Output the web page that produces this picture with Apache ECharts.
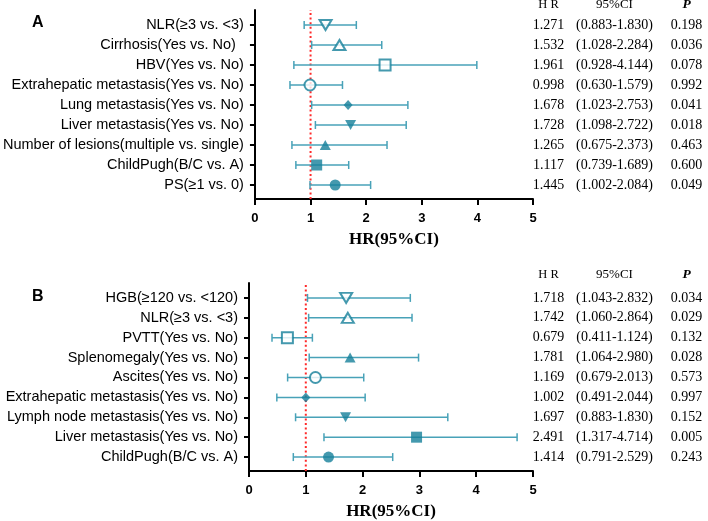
<!DOCTYPE html>
<html>
<head>
<meta charset="utf-8">
<script src="https://cdn.jsdelivr.net/npm/echarts@6/dist/echarts.min.js"></script>
<style>
  html, body { margin: 0; padding: 0; background: #fff; }
  #chart { width: 708px; height: 521px; }
</style>
</head>
<body>
<div id="chart"></div>
<script>
// panel A - factors
var labelsA = ['NLR(≥3 vs. <3)', 'Cirrhosis(Yes vs. No)  ', 'HBV(Yes vs. No)',
  'Extrahepatic metastasis(Yes vs. No)', 'Lung metastasis(Yes vs. No)',
  'Liver metastasis(Yes vs. No)', 'Number of lesions(multiple vs. single)',
  'ChildPugh(B/C vs. A)', 'PS(≥1 vs. 0)'];
// plotted positions
var hrA = [1.27, 1.52, 2.34, 0.99, 1.675, 1.72, 1.265, 1.11, 1.443];
var loA = [0.885, 1.02, 0.70, 0.63, 1.02, 1.087, 0.665, 0.736, 0.99];
var hiA = [1.823, 2.28, 3.99, 1.574, 2.75, 2.72, 2.375, 1.686, 2.08];
// table text
var tabHrA = ['1.271', '1.532', '1.961', '0.998', '1.678', '1.728', '1.265', '1.117', '1.445'];
var tabCiA = ['(0.883-1.830)', '(1.028-2.284)', '(0.928-4.144)', '(0.630-1.579)', '(1.023-2.753)',
  '(1.098-2.722)', '(0.675-2.373)', '(0.739-1.689)', '(1.002-2.084)'];
var tabPA = ['0.198', '0.036', '0.078', '0.992', '0.041', '0.018', '0.463', '0.600', '0.049'];

// panel B - factors
var labelsB = ['HGB(≥120 vs. <120)', 'NLR(≥3 vs. <3)', 'PVTT(Yes vs. No)',
  'Splenomegaly(Yes vs. No)', 'Ascites(Yes vs. No)', 'Extrahepatic metastasis(Yes vs. No)',
  'Lymph node metastasis(Yes vs. No)', 'Liver metastasis(Yes vs. No)', 'ChildPugh(B/C vs. A)'];
var hrB = [1.71, 1.74, 0.676, 1.78, 1.17, 1.0, 1.70, 2.95, 1.40];
var loB = [1.03, 1.05, 0.405, 1.06, 0.68, 0.49, 0.82, 1.32, 0.78];
var hiB = [2.84, 2.87, 1.116, 2.985, 2.02, 2.045, 3.50, 4.72, 2.53];
var tabHrB = ['1.718', '1.742', '0.679', '1.781', '1.169', '1.002', '1.697', '2.491', '1.414'];
var tabCiB = ['(1.043-2.832)', '(1.060-2.864)', '(0.411-1.124)', '(1.064-2.980)', '(0.679-2.013)',
  '(0.491-2.044)', '(0.883-1.830)', '(1.317-4.714)', '(0.791-2.529)'];
var tabPB = ['0.034', '0.029', '0.132', '0.028', '0.573', '0.997', '0.152', '0.005', '0.243'];

var tableHead = ['H R', '95%CI', 'P'];
var xTicks = [0, 1, 2, 3, 4, 5];

// marker shapes per row: [symbol, rotate, hollow]
var shapesA = [['triangle', 180, 1], ['triangle', 0, 1], ['rect', 0, 1], ['circle', 0, 1],
  ['diamond', 0, 0], ['triangle', 180, 0], ['triangle', 0, 0], ['rect', 0, 0], ['circle', 0, 0]];
var shapesB = [['triangle', 180, 1], ['triangle', 0, 1], ['rect', 0, 1], ['triangle', 0, 0],
  ['circle', 0, 1], ['diamond', 0, 0], ['triangle', 180, 0], ['rect', 0, 0], ['circle', 0, 0]];

var barColor = '#48a2b8';
var dotColor = '#15809a';
var rowMin = 0.3, rowMax = 9.75;
var rows = [1, 2, 3, 4, 5, 6, 7, 8, 9];

function sizeOf(s) {
  if (s[0] === 'rect') return 11;
  if (s[0] === 'diamond') return [9, 10];
  if (s[0] === 'triangle') return s[2] ? [12, 10] : [11, 10];
  return 11;
}

function points(hr, shapes) {
  return hr.map(function (v, i) {
    var s = shapes[i];
    var hollow = s[2] === 1;
    return {
      value: [v, 9 - i],
      symbol: s[0],
      symbolRotate: s[1],
      symbolSize: sizeOf(s),
      itemStyle: hollow ? { color: '#fff', borderColor: dotColor, borderWidth: 2 }
                        : { color: dotColor, borderWidth: 0 }
    };
  });
}

function bars(lo, hi) {
  return lo.map(function (v, i) { return [v, hi[i], 9 - i]; });
}

function renderBar(params, api) {
  var y = api.value(2);
  var a = api.coord([api.value(0), y]);
  var b = api.coord([api.value(1), y]);
  var st = { stroke: barColor, lineWidth: 1.5 };
  return {
    type: 'group',
    children: [
      { type: 'line', shape: { x1: a[0], y1: a[1], x2: b[0], y2: b[1] }, style: st },
      { type: 'line', shape: { x1: a[0], y1: a[1] - 4, x2: a[0], y2: a[1] + 4 }, style: st },
      { type: 'line', shape: { x1: b[0], y1: b[1] - 4, x2: b[0], y2: b[1] + 4 }, style: st }
    ]
  };
}

var labelFont = 'Liberation Sans, Arial, sans-serif';
var serifFont = 'Liberation Serif, Times New Roman, serif';

function xAxisFor(idx) {
  return {
    type: 'value', gridIndex: idx, min: 0, max: 5, interval: 1,
    axisLine: { show: true, lineStyle: { color: '#000', width: 2 } },
    axisTick: { show: true, length: 6, lineStyle: { color: '#000', width: 2 } },
    axisLabel: { color: '#000', fontFamily: labelFont, fontWeight: 'bold', fontSize: 13, margin: 13,
      customValues: xTicks },
    splitLine: { show: false },
    name: 'HR(95%CI)', nameLocation: 'middle', nameGap: 32,
    nameTextStyle: { fontFamily: serifFont, fontWeight: 'bold', fontSize: 17, color: '#000' }
  };
}

function yAxisFor(idx, labels) {
  return {
    type: 'value', gridIndex: idx, min: rowMin, max: rowMax,
    axisLine: { show: true, onZero: false, lineStyle: { color: '#000', width: 2 } },
    axisTick: { show: true, length: 5, customValues: rows, lineStyle: { color: '#000', width: 2 } },
    axisLabel: { customValues: rows, color: '#000', fontFamily: labelFont, fontSize: 14.5, margin: 11,
      formatter: function (v) { return labels[9 - Math.round(v)]; } },
    splitLine: { show: false }
  };
}

var rich = {
  hr: { width: 31, align: 'center', fontFamily: serifFont, fontSize: 14, color: '#000' },
  ci: { width: 101, align: 'center', fontFamily: serifFont, fontSize: 14, color: '#000' },
  p: { width: 43, align: 'center', fontFamily: serifFont, fontSize: 14, color: '#000' },
  hh: { width: 31, align: 'center', fontFamily: serifFont, fontSize: 12.5, fontWeight: 'normal', color: '#000' },
  ch: { width: 101, align: 'center', fontFamily: serifFont, fontSize: 13, fontWeight: 'normal', color: '#000' },
  ph: { width: 43, align: 'center', fontFamily: serifFont, fontSize: 13.5, fontStyle: 'italic', fontWeight: 'bold', color: '#000' }
};

function tableAxisFor(idx, th, tc, tp) {
  return {
    type: 'value', gridIndex: idx, min: rowMin, max: rowMax, position: 'right',
    axisLine: { show: false }, axisTick: { show: false }, splitLine: { show: false },
    axisLabel: { customValues: rows, margin: 0, align: 'left', rich: rich,
      formatter: function (v) {
        var i = 9 - Math.round(v);
        return '{hr|' + th[i] + '}{ci|' + tc[i] + '}{p|' + tp[i] + '}';
      } }
  };
}

function headTitle(top) {
  return {
    text: '{hh|' + tableHead[0] + '}{ch|' + tableHead[1] + '}{ph|' + tableHead[2] + '}',
    left: 533, top: top, padding: 0,
    textStyle: { fontWeight: 'normal', rich: rich }
  };
}

function refLine(xi, yi) {
  return {
    type: 'line', xAxisIndex: xi, yAxisIndex: yi, z: 1,
    data: [[1, rowMin], [1, rowMax]], symbol: 'none', silent: true,
    lineStyle: { color: '#ff2a2a', width: 2, type: [2, 2.6] }
  };
}

var option = {
  backgroundColor: '#fff',
  animation: false,
  title: [
    { text: 'A', left: 27, top: 10, textStyle: { fontFamily: labelFont, fontSize: 16, fontWeight: 'bold', color: '#000' } },
    { text: 'B', left: 27, top: 284, textStyle: { fontFamily: labelFont, fontSize: 16, fontWeight: 'bold', color: '#000' } },
    headTitle(-2),
    headTitle(268)
  ],
  grid: [
    { left: 252, width: 281, top: 10, height: 189 },
    { left: 249, width: 284, top: 283, height: 189 }
  ],
  xAxis: [xAxisFor(0), xAxisFor(1)],
  yAxis: [
    yAxisFor(0, labelsA), tableAxisFor(0, tabHrA, tabCiA, tabPA),
    yAxisFor(1, labelsB), tableAxisFor(1, tabHrB, tabCiB, tabPB)
  ],
  series: [
    refLine(0, 0),
    { type: 'custom', xAxisIndex: 0, yAxisIndex: 0, z: 3, renderItem: renderBar, data: bars(loA, hiA) },
    { type: 'scatter', xAxisIndex: 0, yAxisIndex: 0, z: 5, data: points(hrA, shapesA) },
    refLine(1, 2),
    { type: 'custom', xAxisIndex: 1, yAxisIndex: 2, z: 3, renderItem: renderBar, data: bars(loB, hiB) },
    { type: 'scatter', xAxisIndex: 1, yAxisIndex: 2, z: 5, data: points(hrB, shapesB) }
  ]
};

var myChart = echarts.init(document.getElementById('chart'));
myChart.setOption(option);
</script>
</body>
</html>
